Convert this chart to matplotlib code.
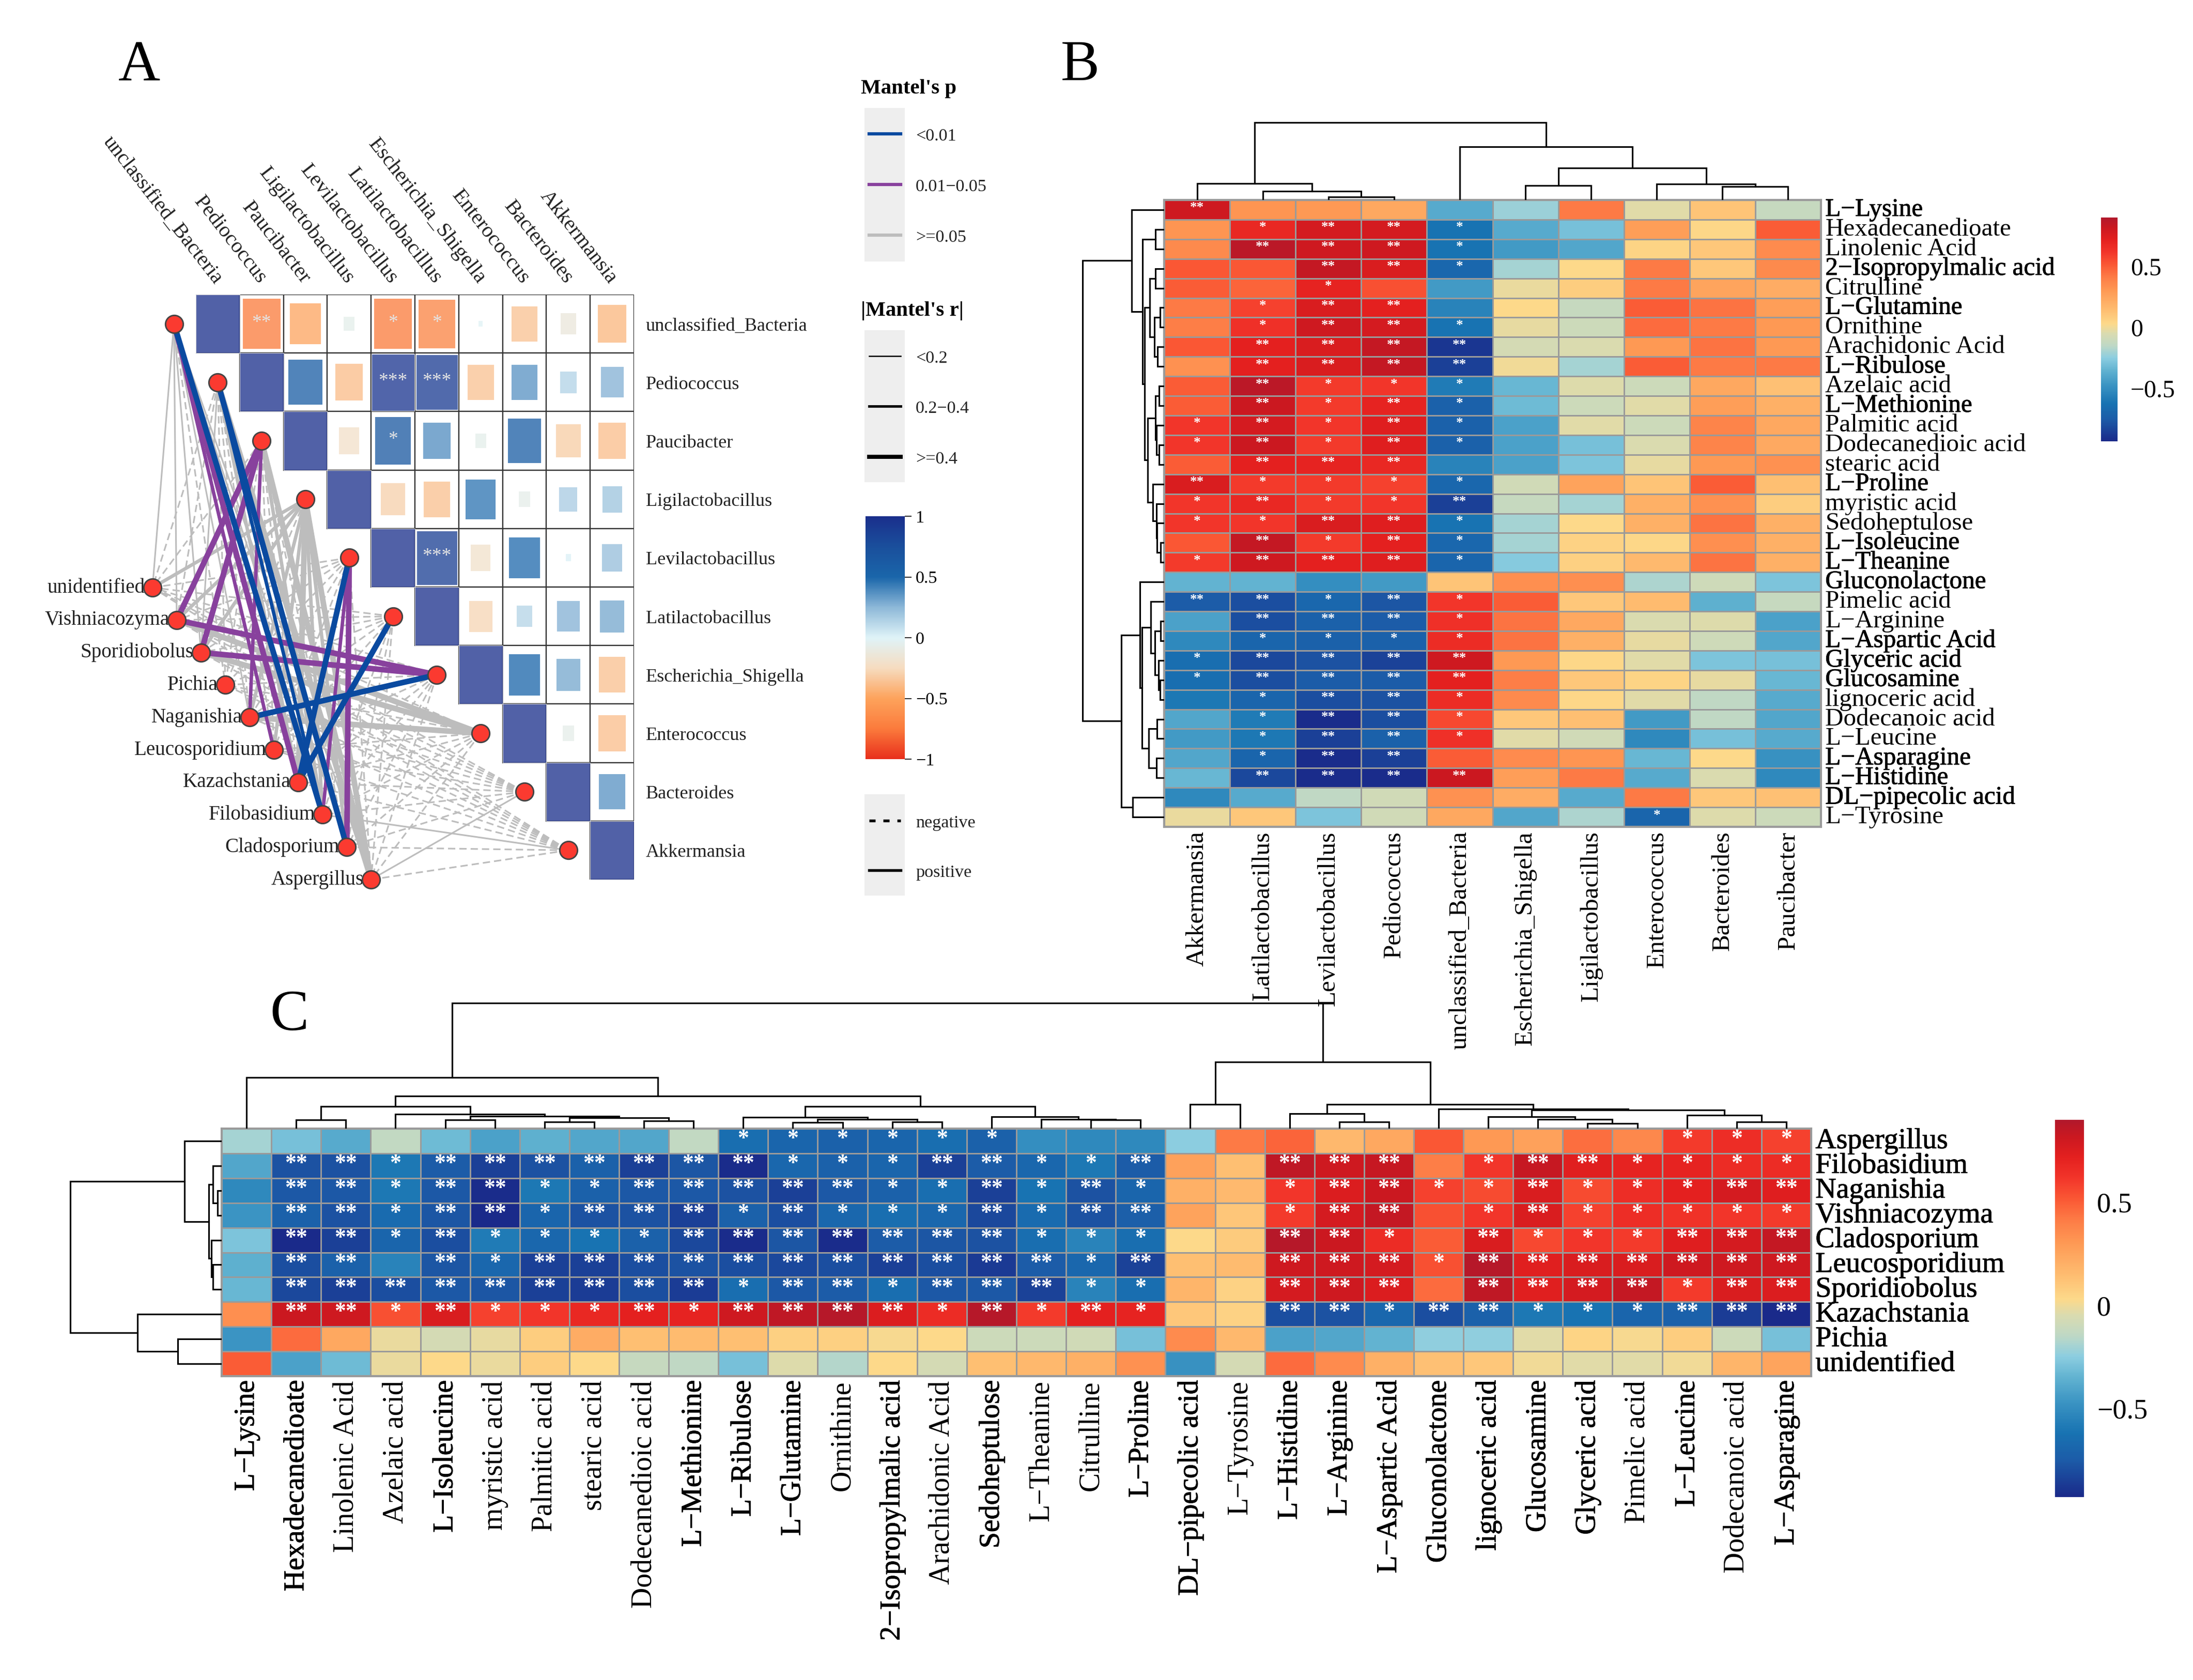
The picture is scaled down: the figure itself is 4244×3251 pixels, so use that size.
import numpy as np
import matplotlib
matplotlib.use('Agg')
import matplotlib.pyplot as plt
import matplotlib.patheffects as pe
from matplotlib.cm import ScalarMappable
from matplotlib.colors import LinearSegmentedColormap, Normalize
from matplotlib.patches import Rectangle

plt.rcParams['font.family'] = ['Liberation Serif', 'DejaVu Serif']
plt.rcParams['axes.unicode_minus'] = True

W, H = 4244, 3251

# Panel A data
bacteria = ['unclassified_Bacteria', 'Pediococcus', 'Paucibacter', 'Ligilactobacillus', 'Levilactobacillus',
            'Latilactobacillus', 'Escherichia_Shigella', 'Enterococcus', 'Bacteroides', 'Akkermansia']
fungi = ['unidentified', 'Vishniacozyma', 'Sporidiobolus', 'Pichia', 'Naganishia', 'Leucosporidium',
         'Kazachstania', 'Filobasidium', 'Cladosporium', 'Aspergillus']
corr_r = [
    [1, -.74, -.49, -.06, -.74, -.69, -.01, -.36, -.13, -.41],
    [0, 1, .59, -.39, .95, .9, -.36, .36, .14, .27],
    [0, 0, 1, -.21, .65, .38, -.06, .58, -.32, -.38],
    [0, 0, 0, 1, -.3, -.37, .46, -.07, .17, .2],
    [0, 0, 0, 0, 1, .87, -.2, .49, .015, .22],
    [0, 0, 0, 0, 0, 1, -.28, .13, .27, .3],
    [0, 0, 0, 0, 0, 0, 1, .5, .3, -.37],
    [0, 0, 0, 0, 0, 0, 0, 1, -.07, -.38],
    [0, 0, 0, 0, 0, 0, 0, 0, 1, .36],
    [0, 0, 0, 0, 0, 0, 0, 0, 0, 1],
]
corr_stars = {(0, 1): '**', (0, 4): '*', (0, 5): '*', (1, 4): '***', (1, 5): '***', (2, 4): '*', (4, 5): '***'}
# rows are bacteria, columns are fungi
link_p = [
    [0, 0, 0, 0, 0, 1, 1, 2, 0, 0],
    [0, 0, 0, 0, 0, 0, 0, 2, 2, 0],
    [0, 1, 1, 0, 1, 0, 0, 0, 0, 0],
    [0, 0, 0, 0, 0, 0, 0, 0, 0, 0],
    [0, 0, 0, 0, 0, 0, 2, 1, 1, 0],
    [0, 0, 0, 0, 0, 0, 2, 0, 0, 0],
    [0, 1, 1, 0, 2, 0, 0, 0, 0, 0],
    [0, 0, 0, 0, 0, 0, 0, 0, 0, 0],
    [0, 0, 0, 0, 0, 0, 0, 0, 0, 0],
    [0, 0, 0, 0, 0, 0, 0, 0, 0, 0],
]
link_r = [
    [0, 0, 0, 0, 0, 1, 2, 2, 0, 0],
    [0, 0, 0, 0, 0, 0, 1, 1, 2, 2],
    [0, 2, 2, 0, 1, 0, 0, 1, 0, 2],
    [1, 1, 1, 0, 1, 1, 2, 1, 1, 2],
    [0, 0, 0, 0, 0, 0, 2, 1, 2, 0],
    [0, 0, 0, 0, 0, 0, 2, 0, 0, 0],
    [0, 2, 2, 0, 2, 0, 0, 0, 0, 0],
    [0, 2, 2, 0, 2, 0, 0, 0, 0, 0],
    [0, 0, 0, 0, 0, 0, 0, 0, 0, 0],
    [0, 0, 0, 0, 0, 0, 0, 0, 0, 0],
]
link_sign = [
    [1, 1, 1, 0, 1, 1, 1, 1, 1, 1],
    [0, 0, 1, 0, 0, 0, 1, 1, 1, 1],
    [0, 1, 1, 0, 1, 0, 0, 1, 0, 1],
    [1, 1, 1, 0, 1, 1, 1, 1, 1, 1],
    [0, 0, 0, 0, 0, 0, 1, 1, 1, 0],
    [0, 0, 0, 0, 0, 0, 1, 0, 0, 0],
    [0, 1, 1, 0, 1, 0, 0, 0, 0, 0],
    [0, 1, 1, 0, 1, 0, 0, 0, 0, 0],
    [0, 0, 0, 0, 0, 0, 0, 0, 0, 1],
    [0, 0, 0, 0, 0, 0, 0, 1, 0, 0],
]

# Panel B data
b_rows = ['L\u2212Lysine', 'Hexadecanedioate', 'Linolenic Acid', '2\u2212Isopropylmalic acid', 'Citrulline',
          'L\u2212Glutamine', 'Ornithine', 'Arachidonic Acid', 'L\u2212Ribulose', 'Azelaic acid', 'L\u2212Methionine',
          'Palmitic acid', 'Dodecanedioic acid', 'stearic acid', 'L\u2212Proline', 'myristic acid', 'Sedoheptulose',
          'L\u2212Isoleucine', 'L\u2212Theanine', 'Gluconolactone', 'Pimelic acid', 'L\u2212Arginine',
          'L\u2212Aspartic Acid', 'Glyceric acid', 'Glucosamine', 'lignoceric acid', 'Dodecanoic acid', 'L\u2212Leucine',
          'L\u2212Asparagine', 'L\u2212Histidine', 'DL\u2212pipecolic acid', 'L\u2212Tyrosine']
b_cols = ['Akkermansia', 'Latilactobacillus', 'Levilactobacillus', 'Pediococcus', 'unclassified_Bacteria',
          'Escherichia_Shigella', 'Ligilactobacillus', 'Enterococcus', 'Bacteroides', 'Paucibacter']
b_values = [
    [.8, .32, .3, .24, -.38, -.22, .42, -.03, .12, -.12],
    [.32, .68, .78, .78, -.62, -.38, -.3, .28, .04, .5],
    [.36, .87, .8, .8, -.62, -.45, -.4, .05, .1, .35],
    [.52, .52, .84, .76, -.68, -.2, .03, .42, .1, .36],
    [.5, .48, .7, .54, -.45, -.01, .08, .42, .25, .22],
    [.42, .58, .76, .72, -.55, .03, -.12, .5, .44, .28],
    [.4, .64, .8, .78, -.62, -.02, -.1, .46, .42, .3],
    [.52, .72, .76, .84, -.88, -.07, -.05, .3, .44, .3],
    [.33, .72, .76, .84, -.85, 0, -.2, .5, .42, .42],
    [.5, .87, .6, .62, -.58, -.33, -.04, -.1, .24, .13],
    [.5, .82, .6, .7, -.72, -.32, -.1, -.03, .28, .2],
    [.62, .78, .62, .74, -.72, -.42, -.03, -.1, .38, .24],
    [.62, .82, .6, .74, -.72, -.42, -.3, -.05, .38, .23],
    [.5, .72, .7, .68, -.55, -.42, -.28, -.02, .3, .33],
    [.76, .6, .6, .58, -.68, -.08, .26, .12, .5, .14],
    [.62, .68, .6, .62, -.85, -.12, -.2, .2, .33, .08],
    [.62, .62, .76, .74, -.62, -.2, .03, .2, .44, .2],
    [.52, .84, .6, .72, -.68, -.2, .06, .04, .34, .2],
    [.6, .8, .72, .74, -.7, -.26, .07, .16, .44, .2],
    [-.35, -.35, -.5, -.45, .12, .34, .34, -.18, -.09, -.28],
    [-.75, -.8, -.68, -.77, .62, .5, .1, .15, -.36, -.12],
    [-.42, -.8, -.72, -.75, .64, .44, .24, -.05, -.04, -.42],
    [-.52, -.7, -.72, -.72, .66, .44, .2, -.02, -.09, -.4],
    [-.65, -.82, -.78, -.84, .8, .3, .04, -.03, -.28, -.3],
    [-.65, -.8, -.75, -.75, .72, .4, .1, .05, -.02, -.33],
    [-.6, -.7, -.8, -.78, .66, .36, .04, -.03, -.14, -.38],
    [-.4, -.58, -.92, -.8, .56, .1, .14, -.45, -.14, -.4],
    [-.45, -.6, -.85, -.72, .64, -.03, -.08, -.52, -.3, -.38],
    [-.4, -.7, -.92, -.85, .5, .35, .32, -.33, .03, -.48],
    [-.33, -.82, -.92, -.92, .82, .28, .42, -.38, -.05, -.52],
    [-.52, -.38, -.14, -.08, .33, .22, -.38, .42, .1, .13],
    [-.01, .1, -.28, -.08, .24, -.4, -.18, -.7, -.04, -.1],
]
b_stars = ['2000000000', '0122100000', '0222100000', '0022100000', '0010000000', '0122000000', '0122100000',
           '0222200000', '0222200000', '0211100000', '0212100000', '1212100000', '1212100000', '0222000000',
           '2111100000', '1211200000', '1122100000', '0212100000', '1222100000', '0000000000', '2212100000',
           '0222100000', '0111100000', '1222200000', '1222200000', '0122100000', '0122100000', '0122100000',
           '0122000000', '0222200000', '0000000000', '0000000100']
b_heavy = ['L\u2212Lysine', '2\u2212Isopropylmalic acid', 'L\u2212Glutamine', 'L\u2212Ribulose', 'L\u2212Methionine',
           'L\u2212Proline', 'L\u2212Isoleucine', 'L\u2212Theanine', 'Gluconolactone', 'L\u2212Aspartic Acid',
           'Glyceric acid', 'Glucosamine', 'L\u2212Asparagine', 'L\u2212Histidine', 'DL\u2212pipecolic acid']
# trees are (height, left, right), height in pixels
b_top_tree = (150, (32, 0, (17, 1, (6, 2, 3))),
              (103, 4, (62, (28, 5, 6), (31, 7, (26, 8, 9)))))
b_left_tree = (158,
               (63, 0, (42, (17, 1, 2),
                        (38, (28, (17, 3, 4), (19, (8, 5, 6), (13, 7, 8))),
                         (32, (17, (10, 9, 10), (15, 11, (10, 12, 13))),
                          (22, 14, (15, 15, (14, 16, (7, 17, 18)))))))),
               (83, (47, 19, (43, (26, 20, (18, (7, 21, 22), (11, 23, (8, 24, 25)))),
                              (30, (14, 26, 27), (15, 28, 29)))),
                (61, 30, 31)))

# Panel C data
c_rows = ['Aspergillus', 'Filobasidium', 'Naganishia', 'Vishniacozyma', 'Cladosporium', 'Leucosporidium',
          'Sporidiobolus', 'Kazachstania', 'Pichia', 'unidentified']
c_cols = ['L\u2212Lysine', 'Hexadecanedioate', 'Linolenic Acid', 'Azelaic acid', 'L\u2212Isoleucine', 'myristic acid',
          'Palmitic acid', 'stearic acid', 'Dodecanedioic acid', 'L\u2212Methionine', 'L\u2212Ribulose', 'L\u2212Glutamine',
          'Ornithine', '2\u2212Isopropylmalic acid', 'Arachidonic Acid', 'Sedoheptulose', 'L\u2212Theanine', 'Citrulline',
          'L\u2212Proline', 'DL\u2212pipecolic acid', 'L\u2212Tyrosine', 'L\u2212Histidine', 'L\u2212Arginine',
          'L\u2212Aspartic Acid', 'Gluconolactone', 'lignoceric acid', 'Glucosamine', 'Glyceric acid', 'Pimelic acid',
          'L\u2212Leucine', 'Dodecanoic acid', 'L\u2212Asparagine']
c_values = [
    [-.2, -.3, -.38, -.13, -.32, -.42, -.36, -.4, -.4, -.13, -.65, -.7, -.72, -.7, -.65, -.72,
     -.5, -.52, -.52, -.25, .42, .48, .17, .24, .52, .3, .27, .45, .37, .6, .65, .58],
    [-.4, -.78, -.78, -.6, -.75, -.85, -.78, -.72, -.85, -.77, -.92, -.68, -.72, -.7, -.85, -.75,
     -.68, -.6, -.75, .27, .14, .85, .8, .83, .4, .62, .83, .73, .7, .7, .66, .66],
    [-.52, -.76, -.76, -.6, -.76, -.92, -.6, -.72, -.76, -.76, -.78, -.85, -.76, -.72, -.65, -.85,
     -.62, -.78, -.7, .2, .16, .62, .75, .82, .58, .55, .76, .55, .65, .72, .78, .74],
    [-.47, -.72, -.78, -.66, -.77, -.93, -.7, -.78, -.78, -.85, -.72, -.8, -.68, -.65, -.68, -.82,
     -.66, -.78, -.73, .26, .11, .6, .78, .84, .54, .62, .76, .58, .65, .63, .62, .6],
    [-.28, -.93, -.85, -.7, -.8, -.58, -.68, -.62, -.72, -.82, -.92, -.77, -.92, -.75, -.77, -.78,
     -.65, -.55, -.65, .03, .09, .88, .82, .66, .5, .76, .56, .62, .6, .74, .78, .84],
    [-.36, -.8, -.72, -.55, -.77, -.68, -.85, -.85, -.8, -.78, -.8, -.82, -.8, -.85, -.8, -.87,
     -.75, -.68, -.84, .14, .15, .8, .8, .78, .54, .88, .73, .76, .76, .8, .8, .8],
    [-.33, -.82, -.85, -.8, -.76, -.77, -.85, -.86, -.8, -.86, -.65, -.76, -.75, -.65, -.76, -.76,
     -.84, -.55, -.65, .18, .06, .78, .8, .75, .46, .85, .73, .78, .84, .6, .76, .75],
    [.34, .82, .8, .54, .76, .58, .62, .68, .72, .7, .8, .85, .88, .75, .66, .88,
     .6, .72, .7, .1, .06, -.8, -.78, -.68, -.8, -.72, -.6, -.62, -.7, -.72, -.86, -.93],
    [-.47, .46, .24, -.01, -.07, -.02, .08, .22, .14, .15, .14, .07, .07, .02, .03, -.1,
     -.1, -.08, -.3, .35, .17, -.42, -.4, -.35, -.24, -.24, -.03, .05, .02, .08, -.1, -.3],
    [.5, -.42, -.32, -.01, .03, -.01, .08, .03, -.12, -.14, -.3, -.04, -.17, .03, -.07, .14,
     .17, .2, .33, -.48, -.07, .46, .35, .2, .13, .1, 0, -.03, -.03, 0, .18, .25],
]
c_stars = ['00000000001111110000000000000111',
           '02212222222111221120022201221111',
           '02212211222221121210012211211122',
           '02212212221211121220012201211111',
           '02212111122222221110022102111222',
           '02202122222222222120022212222222',
           '02222222221221222110022202222122',
           '02212111212222121210022122111222',
           '00000000000000000000000000000000',
           '00000000000000000000000000000000']
c_heavy = ['L\u2212Lysine', 'Hexadecanedioate', 'L\u2212Isoleucine', 'L\u2212Methionine', 'L\u2212Ribulose',
           'L\u2212Glutamine', '2\u2212Isopropylmalic acid', 'Sedoheptulose', 'L\u2212Proline', 'DL\u2212pipecolic acid',
           'L\u2212Histidine', 'L\u2212Arginine', 'Gluconolactone', 'lignoceric acid', 'Glucosamine', 'Glyceric acid',
           'L\u2212Leucine', 'L\u2212Asparagine', 'L\u2212Aspartic Acid'] + c_rows
c_top_tree = (243,
              (99, 0, (63,
                       (43, (17, 1, 2), (28, 3, (24, (17, 4, 5), (21, (13, 6, 7), (15, 8, 9))))),
                       (43, (22, 10, (18, (12, 11, 12), (13, 13, 14))),
                        (23, 15, (18, 16, (17, 17, 18)))))),
              (129, (47, 19, 20),
               (47, (29, 21, (13, 22, 23)),
                (38, 24, (36, (23, 25, (18, 26, (10, 27, 28))), (26, 29, (13, 30, 31)))))))
c_left_tree = (293,
               (72, 0, (25, (17, 1, (8, 2, 3)), (20, 4, (17, 5, 6)))),
               (163, 7, (85, 8, 9)))

heat_cmap = LinearSegmentedColormap.from_list('heat', [
    (0.0, '#1a2a8a'), (0.098, '#1c5ca8'), (0.169, '#1873b2'), (0.251, '#3b94c3'), (0.317, '#62b3d1'),
    (0.372, '#8ccde0'), (0.426, '#bdd8c6'), (0.481, '#d9dbb0'), (0.525, '#fdd98a'), (0.590, '#febc70'),
    (0.672, '#fe9a55'), (0.738, '#fd7a45'), (0.792, '#fa5734'), (0.847, '#f2352a'), (0.902, '#e4201f'),
    (0.956, '#cb1820'), (1.0, '#b2182b')])
heat_norm = Normalize(-.93, .9)
corr_cmap = LinearSegmentedColormap.from_list('corr', ['#e8301c', '#fb7b3c', '#fda35c', '#f6dcc0', '#dff3f8',
                                                       '#8db8d8', '#1a66aa', '#1a4f9c', '#1a2f8c'])
corr_norm = Normalize(-1, 1)


def px_axes(x0, y0, x1, y1):
    # axes placed by reference pixels, y counted from the top
    ax = fig.add_axes([x0 / W, 1 - y1 / H, (x1 - x0) / W, (y1 - y0) / H])
    return ax


def draw_tree(ax, node, top=True):
    # recursive dendrogram, leaves are column or row numbers
    if not isinstance(node, tuple):
        return node + .5, 0
    h, left, right = node
    p1, h1 = draw_tree(ax, left, top)
    p2, h2 = draw_tree(ax, right, top)
    xs, ys = [p1, p1, p2, p2], [h1, h, h, h2]
    if top:
        ax.plot(xs, ys, color='k', lw=.75, solid_joinstyle='miter')
    else:
        ax.plot(ys, xs, color='k', lw=.75, solid_joinstyle='miter')
    return (p1 + p2) / 2, h


def heatmap(box, rows, cols, values, stars, heavy, font, star_font, top_tree, left_tree, top_h, left_w, star_y):
    x0, y0, x1, y1 = box
    ax = px_axes(x0, y0, x1, y1)
    ax.pcolormesh(np.array(values), cmap=heat_cmap, norm=heat_norm, edgecolors='#9a9a9a', linewidth=.7)
    ax.set_xlim(0, len(cols))
    ax.set_ylim(len(rows), 0)
    for s in ax.spines.values():
        s.set_color('#9a9a9a')
        s.set_linewidth(1.0)
    ax.yaxis.tick_right()
    ax.set_yticks(np.arange(len(rows)) + .5, rows, fontsize=font, va='center')
    ax.set_xticks(np.arange(len(cols)) + .5, cols, fontsize=font, rotation=90)
    ax.tick_params(length=0, pad=2)
    for lab in ax.get_xticklabels() + ax.get_yticklabels():
        if lab.get_text() in heavy:
            lab.set_path_effects([pe.withStroke(linewidth=.2, foreground='k')])
    for i, row in enumerate(stars):
        for j, n in enumerate(row):
            if n != '0':
                ax.text(j + .5, i + star_y, '*' * int(n), color='w', ha='center', va='center',
                        fontsize=star_font, fontweight='bold')
    top = px_axes(x0, y0 - top_h, x1, y0)
    top.set_xlim(0, len(cols))
    top.set_ylim(0, top_h)
    draw_tree(top, top_tree, True)
    top.axis('off')
    left = px_axes(x0 - left_w, y0, x0, y1)
    left.set_xlim(left_w, 0)
    left.set_ylim(len(rows), 0)
    draw_tree(left, left_tree, False)
    left.axis('off')
    return ax


def heat_colorbar(box, font):
    cax = px_axes(*box)
    cb = fig.colorbar(ScalarMappable(norm=heat_norm, cmap=heat_cmap), cax=cax)
    cb.outline.set_visible(False)
    cb.set_ticks([-.5, 0, .5], labels=['\u22120.5', '0', '0.5'])
    cb.ax.tick_params(length=0, labelsize=font, pad=6)
    return cb


fig = plt.figure(figsize=(W / 300, H / 300), dpi=300)

# Panel A
ax_a = px_axes(379, 570, 1227, 1702)
ax_a.set_xlim(0, 10)
ax_a.set_ylim(10, 0)
ax_a.axis('off')
n_sp = len(bacteria)
for i in range(n_sp):
    for j in range(i, n_sp):
        r = corr_r[i][j]
        ax_a.add_patch(Rectangle((j, i), 1, 1, fc='w', ec='#333333', lw=.55, zorder=1))
        side = np.sqrt(abs(r))
        ax_a.add_patch(Rectangle((j + .5 - side / 2, i + .5 - side / 2), side, side,
                                 fc=corr_cmap(corr_norm(r)), ec='w' if side > .9 else 'none',
                                 lw=.3, alpha=.76, zorder=2))
for (i, j), s in corr_stars.items():
    ax_a.text(j + .5, i + .48, s, color='#e4e4e4', ha='center', va='center', fontsize=9, zorder=3)
for i, name in enumerate(bacteria):
    ax_a.text(10.27, i + .54, name, ha='left', va='center', fontsize=8.7, color='#222222')
    ax_a.text(i + .52, -.22, name, ha='right', va='center', rotation=-52, rotation_mode='anchor',
              fontsize=9.8, color='#222222')

sp_x = np.arange(n_sp) - .5
sp_y = np.arange(n_sp) + .5
env_x = np.linspace(-.99, 4.0, len(fungi))
env_y = np.linspace(5.01, 10.0, len(fungi))
p_colors = ['#bdbdbd', '#88419d', '#0a4aa0']
r_widths = [.75, 1.6, 2.6]
for level in range(3):
    for i in range(n_sp):
        for j in range(len(fungi)):
            if link_p[i][j] != level:
                continue
            ls = '-' if link_sign[i][j] else (0, (4.5, 2.5))
            ax_a.plot([sp_x[i], env_x[j]], [sp_y[i], env_y[j]], color=p_colors[level], lw=r_widths[link_r[i][j]],
                      ls=ls, clip_on=False, zorder=4)
ax_a.scatter(sp_x, sp_y, s=68, c='#fb3a30', edgecolors='#444444', linewidths=.7, clip_on=False, zorder=5)
ax_a.scatter(env_x, env_y, s=68, c='#fb3a30', edgecolors='#444444', linewidths=.7, clip_on=False, zorder=5)
for x, y, name in zip(env_x, env_y, fungi):
    ax_a.text(x - .17, y, name, ha='right', va='center', fontsize=9.4, color='#222222')

# overlay in reference pixels for the panel A legend and the panel letters
over = fig.add_axes([0, 0, 1, 1])
over.set_xlim(0, W)
over.set_ylim(H, 0)
over.axis('off')
over.patch.set_alpha(0)
for y0, y1 in [(209, 506), (639, 933), (1537, 1733)]:
    over.add_patch(Rectangle((1673, y0), 78, y1 - y0, fc='#eeeeee', ec='none'))
over.text(1666, 171, "Mantel's p", fontsize=9.8, fontweight='bold', ha='left', va='center')
over.text(1666, 602, "|Mantel's r|", fontsize=9.8, fontweight='bold', ha='left', va='center')
for y, c, lab in zip([259, 357, 455], ['#0a4aa0', '#88419d', '#bdbdbd'], ['<0.01', '0.01\u22120.05', '>=0.05']):
    over.plot([1682, 1743], [y, y], color=c, lw=1.5)
    over.text(1772, y + 5, lab, fontsize=8.2, ha='left', va='center', color='#222222')
for y, w, lab in zip([689, 786, 884], [.6, 1.2, 1.9], ['<0.2', '0.2\u22120.4', '>=0.4']):
    over.plot([1682, 1743], [y, y], color='k', lw=w)
    over.text(1772, y + 5, lab, fontsize=8.2, ha='left', va='center', color='#222222')
over.plot([1682, 1743], [1588, 1588], color='k', lw=1.3, ls=(0, (2.2, 2.8)))
over.plot([1682, 1743], [1684, 1684], color='k', lw=1.3)
over.text(1772, 1593, 'negative', fontsize=8.2, ha='left', va='center', color='#222222')
over.text(1772, 1689, 'positive', fontsize=8.2, ha='left', va='center', color='#222222')
for x, y, s in [(270, 130, 'A'), (2090, 128, 'B'), (560, 1966, 'C')]:
    over.text(x, y, s, fontsize=27, ha='center', va='center')

cax_a = px_axes(1675, 999, 1751, 1469)
cb_a = fig.colorbar(ScalarMappable(norm=corr_norm, cmap=corr_cmap), cax=cax_a)
cb_a.outline.set_visible(False)
cb_a.set_ticks([-1, -.5, 0, .5, 1], labels=['\u22121', '\u22120.5', '0', '0.5', '1'])
cb_a.ax.tick_params(length=3, width=.5, labelsize=8.2, pad=2, color='#333333')

# Panel B
heatmap((2253, 387, 3524, 1600), b_rows, b_cols, b_values, b_stars, b_heavy, 11.8, 6.5,
        b_top_tree, b_left_tree, 156, 165, .42)
heat_colorbar((4066, 421, 4098, 854), 11.5)

# Panel C
heatmap((429, 2184, 3505, 2663), c_rows, c_cols, c_values, c_stars, c_heavy, 13.4, 10.5,
        c_top_tree, c_left_tree, 248, 300, .42)
heat_colorbar((3977, 2167, 4033, 2897), 13)

fig.savefig('out.png', dpi=300, facecolor='w')
